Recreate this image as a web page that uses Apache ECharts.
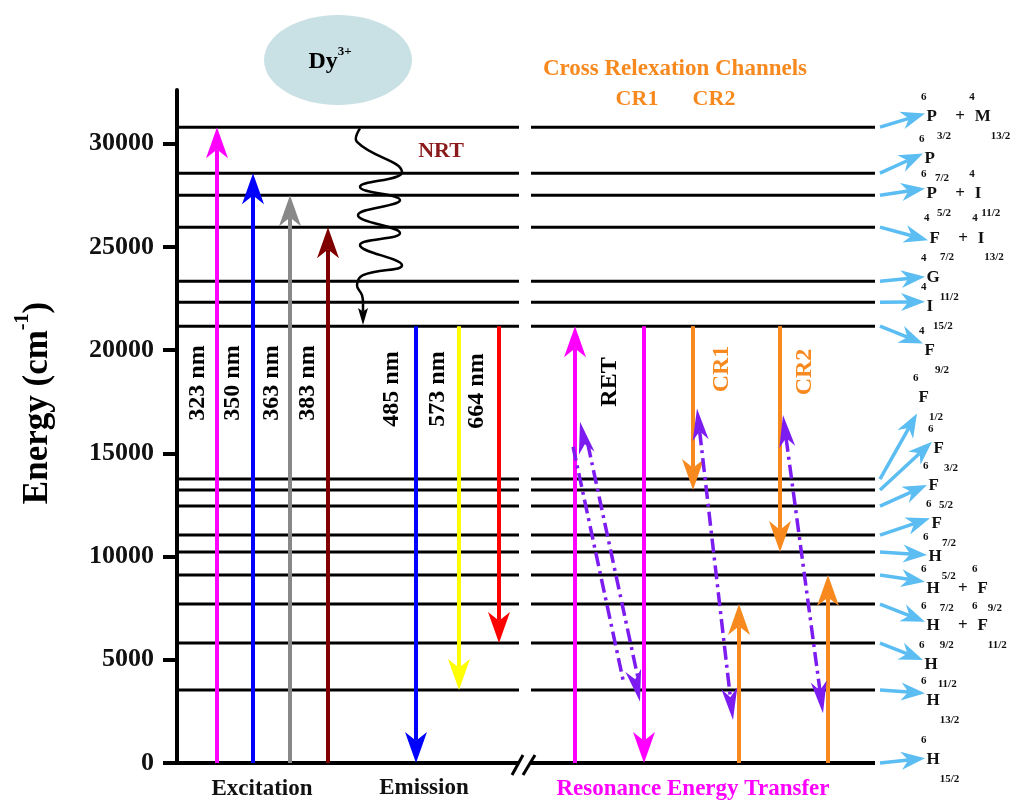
<!DOCTYPE html>
<html>
<head>
<meta charset="utf-8">
<script src="https://cdn.jsdelivr.net/npm/echarts@6.0.0/dist/echarts.min.js"></script>
<style>html,body{margin:0;padding:0;background:#fff}#main{width:1019px;height:804px}</style>
</head>
<body>
<div id="main"></div>
<script>
// ---------------- DATA ----------------
// Dy3+ energy levels (cm-1)
const levelEnergies = [0, 3535, 5811, 7700, 9104, 10218, 11041, 12446, 13220, 13753, 21162, 22324, 23341, 25956, 27506, 28571, 30799];
const yTicks = [0, 5000, 10000, 15000, 20000, 25000, 30000];

// vertical transitions (schematic column position, start energy, end energy)
const transitionNames = ['323 nm', '350 nm', '363 nm', '383 nm', '485 nm', '573 nm', '664 nm', 'RET up', 'RET down', 'CR1 down', 'CR1 up', 'CR2 down', 'CR2 up'];
const transitionX    = [40, 76, 113, 151, 239, 282, 322, 398, 467, 516, 562, 603, 651];
const transitionFrom = [0, 0, 0, 0, 21162, 21162, 21162, 0, 21162, 21162, 0, 21162, 0];
const transitionTo   = [30799, 28571, 27506, 25956, 0, 3535, 5811, 21162, 0, 13220, 7700, 10218, 9104];

// resonance / cross-relaxation energy transfer (dash-dot double arrows)
const transferX0 = [403, 520, 606];
const transferE0 = [16528, 17176, 16852];
const transferX1 = [463, 556, 646];
const transferE1 = [2969, 2082, 2407];

// non-radiative relaxation (wavy path)
const nrtX = [183, 180, 225, 183, 223, 181, 223, 183, 225, 186, 180, 185, 186];
const nrtE = [30736, 30087, 28634, 27908, 27264, 26538, 25666, 25085, 24116, 23632, 23148, 22663, 22250];
const nrtTipE = 21211;

// term symbols on the right
const termLabels = [
  '{p|6}{m|P}{b|3/2}{m| + }{p|4}{m|M}{b|13/2}',
  '{p|6}{m|P}{b|7/2}',
  '{p|6}{m|P}{b|5/2}{m| + }{p|4}{m|I}{b|11/2}',
  '{p|4}{m|F}{b|7/2}{m| + }{p|4}{m|I}{b|13/2}',
  '{p|4}{m|G}{b|11/2}',
  '{p|4}{m|I}{b|15/2}',
  '{p|4}{m|F}{b|9/2}',
  '{p|6}{m|F}{b|1/2}',
  '{p|6}{m|F}{b|3/2}',
  '{p|6}{m|F}{b|5/2}',
  '{p|6}{m|F}{b|7/2}',
  '{p|6}{m|H}{b|5/2}',
  '{p|6}{m|H}{b|7/2}{m| + }{p|6}{m|F}{b|9/2}',
  '{p|6}{m|H}{b|9/2}{m| + }{p|6}{m|F}{b|11/2}',
  '{p|6}{m|H}{b|11/2}',
  '{p|6}{m|H}{b|13/2}',
  '{p|6}{m|H}{b|15/2}'
];
const termLevelE = [30799, 28571, 27506, 25956, 23341, 22324, 21162, 13753, 13220, 12446, 11041, 10218, 9104, 7700, 5811, 3535, 0];
const termTipE   = [31462, 29525, 27831, 25327, 23550, 22339, 20325, 16935, 15559, 13462, 11850, 10073, 8780, 6843, 4988, 3375, 228];
const termStartX = 703;
const termTipX   = [748, 746, 748, 751, 748, 748, 746, 740, 755, 750, 753, 750, 748, 748, 746, 748, 748];

// ---------------- STYLE ----------------
const SERIF = '"Liberation Serif", "Times New Roman", serif';
const transitionColors = ['#ff00ff', '#0000ff', '#888888', '#800000', '#0000ff', '#ffff00', '#ff0000', '#ff00ff', '#ff00ff', '#f7891e', '#f7891e', '#f7891e', '#f7891e'];
const ORANGE = '#f7891e';
const PURPLE = '#7c1cf0';
const SKY = '#5bbdf2';
// vertical shift (px) of each term label relative to its arrow tip
const termLabelShift = [3, 5, 5, -2, 1, 5, 7, -16, 7, 1, 5, 2, 7, 4, 5, 7, 1];

function arrowEls(p0, p1, color, o) {
  const dx = p1[0] - p0[0], dy = p1[1] - p0[1];
  const len = Math.hypot(dx, dy) || 1;
  const ux = dx / len, uy = dy / len, nx = -uy, ny = ux;
  const head = (tip, sx, sy) => {
    const bx = tip[0] - sx * o.headL, by = tip[1] - sy * o.headL;
    const mx = tip[0] - sx * o.headL * o.notch, my = tip[1] - sy * o.headL * o.notch;
    const px = -sy, py = sx, hw = o.headW / 2;
    return { type: 'polygon', shape: { points: [[tip[0], tip[1]], [bx + px * hw, by + py * hw], [mx, my], [bx - px * hw, by - py * hw]] }, style: { fill: color } };
  };
  const s = o.twoHeads ? [p0[0] + ux * o.headL * o.notch, p0[1] + uy * o.headL * o.notch] : p0;
  const e = [p1[0] - ux * o.headL * o.notch, p1[1] - uy * o.headL * o.notch];
  const els = [];
  (o.offsets || [0]).forEach(off => {
    els.push({ type: 'line', shape: { x1: s[0] + nx * off, y1: s[1] + ny * off, x2: e[0] + nx * off, y2: e[1] + ny * off },
      style: { stroke: color, lineWidth: o.width, lineDash: o.dash || null, lineCap: 'butt' } });
  });
  els.push(head(p1, ux, uy));
  if (o.twoHeads) els.push(head(p0, -ux, -uy));
  return els;
}

const termRich = {
  m: { fontSize: 17, fontWeight: 'bold', fontFamily: SERIF, fill: '#111', lineHeight: 50, verticalAlign: 'middle' },
  p: { fontSize: 11, fontWeight: 'bold', fontFamily: SERIF, fill: '#111', lineHeight: 14, verticalAlign: 'top' },
  b: { fontSize: 11, fontWeight: 'bold', fontFamily: SERIF, fill: '#111', lineHeight: 14, verticalAlign: 'bottom' }
};

const chart = echarts.init(document.getElementById('main'));

function txt(text, x, y, size, color, rot) {
  return {
    type: 'text', x: x, y: y, rotation: rot || 0, z: 100,
    style: { text: text, fill: color || '#000', font: 'bold ' + size + 'px ' + SERIF, align: 'center', verticalAlign: 'middle' }
  };
}

const option = {
  animation: false,
  backgroundColor: '#fff',
  grid: { left: 177, right: 0, top: 90, bottom: 41, containLabel: false },
  xAxis: { type: 'value', min: 0, max: 842, show: false },
  yAxis: {
    type: 'value', min: 0, max: 32600, interval: 5000,
    axisLine: { show: true, lineStyle: { color: '#000', width: 4 } },
    axisTick: { show: true, length: 14, lineStyle: { color: '#000', width: 4 }, customValues: yTicks },
    axisLabel: { customValues: yTicks, formatter: v => String(v), fontSize: 26, fontWeight: 'bold', fontFamily: SERIF, color: '#111', margin: 23 },
    splitLine: { show: false }
  },
  graphic: [
    { type: 'ellipse', shape: { cx: 338, cy: 60, rx: 74, ry: 45 }, style: { fill: '#c9e1e4' }, z: 1 },
    { type: 'text', x: 330, y: 62, z: 100, style: { text: '{m|Dy}{s|3+}', align: 'center', verticalAlign: 'middle',
        rich: { m: { fontSize: 24, fontWeight: 'bold', fontFamily: SERIF, fill: '#000', lineHeight: 34, verticalAlign: 'middle' },
                s: { fontSize: 13, fontWeight: 'bold', fontFamily: SERIF, fill: '#000', lineHeight: 14, verticalAlign: 'top' } } } },
    txt('Cross Relexation Channels', 675, 69, 23, ORANGE),
    txt('CR1', 637, 99, 22, ORANGE),
    txt('CR2', 714, 99, 22, ORANGE),
    txt('NRT', 441, 151, 22, '#8b1a1a'),
    { type: 'text', x: 38, y: 403, rotation: Math.PI / 2, z: 100, style: { text: '{m|Energy (cm}{s|-1}{m|)}', align: 'center', verticalAlign: 'middle',
        rich: { m: { fontSize: 35, fontWeight: 'bold', fontFamily: SERIF, fill: '#000', lineHeight: 50, verticalAlign: 'middle' },
                s: { fontSize: 20, fontWeight: 'bold', fontFamily: SERIF, fill: '#000', lineHeight: 20, verticalAlign: 'top' } } } },
    txt('323 nm', 198, 383, 24, '#000', Math.PI / 2),
    txt('350 nm', 233, 383, 24, '#000', Math.PI / 2),
    txt('363 nm', 272, 383, 24, '#000', Math.PI / 2),
    txt('383 nm', 308, 383, 24, '#000', Math.PI / 2),
    txt('485 nm', 392, 389, 24, '#000', Math.PI / 2),
    txt('573 nm', 438, 389, 24, '#000', Math.PI / 2),
    txt('664 nm', 477, 391, 24, '#000', Math.PI / 2),
    txt('RET', 610, 382, 24, '#000', Math.PI / 2),
    txt('CR1', 722, 369, 24, ORANGE, Math.PI / 2),
    txt('CR2', 805, 372, 24, ORANGE, Math.PI / 2),
    txt('Excitation', 262, 789, 23, '#111'),
    txt('Emission', 424, 788, 23, '#111'),
    txt('Resonance Energy Transfer', 693, 789, 23, '#ff00ff'),
    { type: 'line', z: 100, shape: { x1: 512, y1: 775, x2: 523, y2: 755 }, style: { stroke: '#000', lineWidth: 3 } },
    { type: 'line', z: 100, shape: { x1: 523, y1: 775, x2: 535, y2: 755 }, style: { stroke: '#000', lineWidth: 3 } }
  ],
  series: [
    {
      name: 'levels', type: 'custom', z: 2, clip: false,
      data: levelEnergies.map(e => [0, e]),
      renderItem: function (params, api) {
        const e = api.value(1);
        const a = api.coord([0, e]), b = api.coord([342, e]), c = api.coord([354, e]), d = api.coord([698, e]);
        const w = e === 0 ? 4 : 3;
        return { type: 'group', children: [
          { type: 'line', shape: { x1: a[0], y1: a[1], x2: b[0], y2: b[1] }, style: { stroke: '#000', lineWidth: w } },
          { type: 'line', shape: { x1: c[0], y1: c[1], x2: d[0], y2: d[1] }, style: { stroke: '#000', lineWidth: w } }
        ] };
      }
    },
    {
      name: 'transitions', type: 'custom', z: 5, clip: false,
      data: transitionX.map((x, i) => [x, transitionFrom[i], transitionTo[i]]),
      renderItem: function (params, api) {
        const x = api.value(0);
        const p0 = api.coord([x, api.value(1)]);
        const p1 = api.coord([x, api.value(2)]);
        return { type: 'group', children: arrowEls(p0, p1, transitionColors[params.dataIndex], { width: 4, headL: 31, headW: 22, notch: 0.72 }) };
      }
    },
    {
      name: 'energy transfer', type: 'custom', z: 6, clip: false,
      data: transferX0.map((x, i) => [x, transferE0[i], transferX1[i], transferE1[i]]),
      renderItem: function (params, api) {
        const p0 = api.coord([api.value(0), api.value(1)]);
        const p1 = api.coord([api.value(2), api.value(3)]);
        const offs = params.dataIndex === 0 ? [-3, 12] : [0];
        return { type: 'group', children: arrowEls(p0, p1, PURPLE, { width: 3.5, headL: 32, headW: 16, notch: 0.72, twoHeads: true, dash: [14, 5, 3, 5], offsets: offs }) };
      }
    },
    {
      name: 'NRT', type: 'custom', z: 6, clip: false,
      data: [[nrtX[0], nrtE[0]]],
      renderItem: function (params, api) {
        const pts = nrtX.map((x, i) => api.coord([x, nrtE[i]]));
        const last = pts[pts.length - 1];
        const tip = api.coord([nrtX[nrtX.length - 1], nrtTipE]);
        const els = [{ type: 'polyline', shape: { points: pts, smooth: 0.45 }, style: { stroke: '#000', lineWidth: 2.5, fill: null } }];
        return { type: 'group', children: els.concat(arrowEls(last, tip, '#000', { width: 2.5, headL: 17, headW: 10, notch: 0.8 })) };
      }
    },
    {
      name: 'terms', type: 'custom', z: 6, clip: false,
      data: termLevelE.map((e, i) => [termStartX, e, termTipX[i], termTipE[i]]),
      renderItem: function (params, api) {
        const i = params.dataIndex;
        const p0 = api.coord([api.value(0), api.value(1)]);
        const p1 = api.coord([api.value(2), api.value(3)]);
        const els = arrowEls(p0, p1, SKY, { width: 3.5, headL: 24, headW: 18, notch: 0.7 });
        els.push({ type: 'text', x: p1[0] - 4, y: p1[1] + termLabelShift[i], style: { text: termLabels[i], align: 'left', verticalAlign: 'middle', fill: '#111', font: 'bold 17px ' + SERIF, rich: termRich } });
        return { type: 'group', children: els };
      }
    }
  ]
};
chart.setOption(option);
</script>
</body>
</html>
